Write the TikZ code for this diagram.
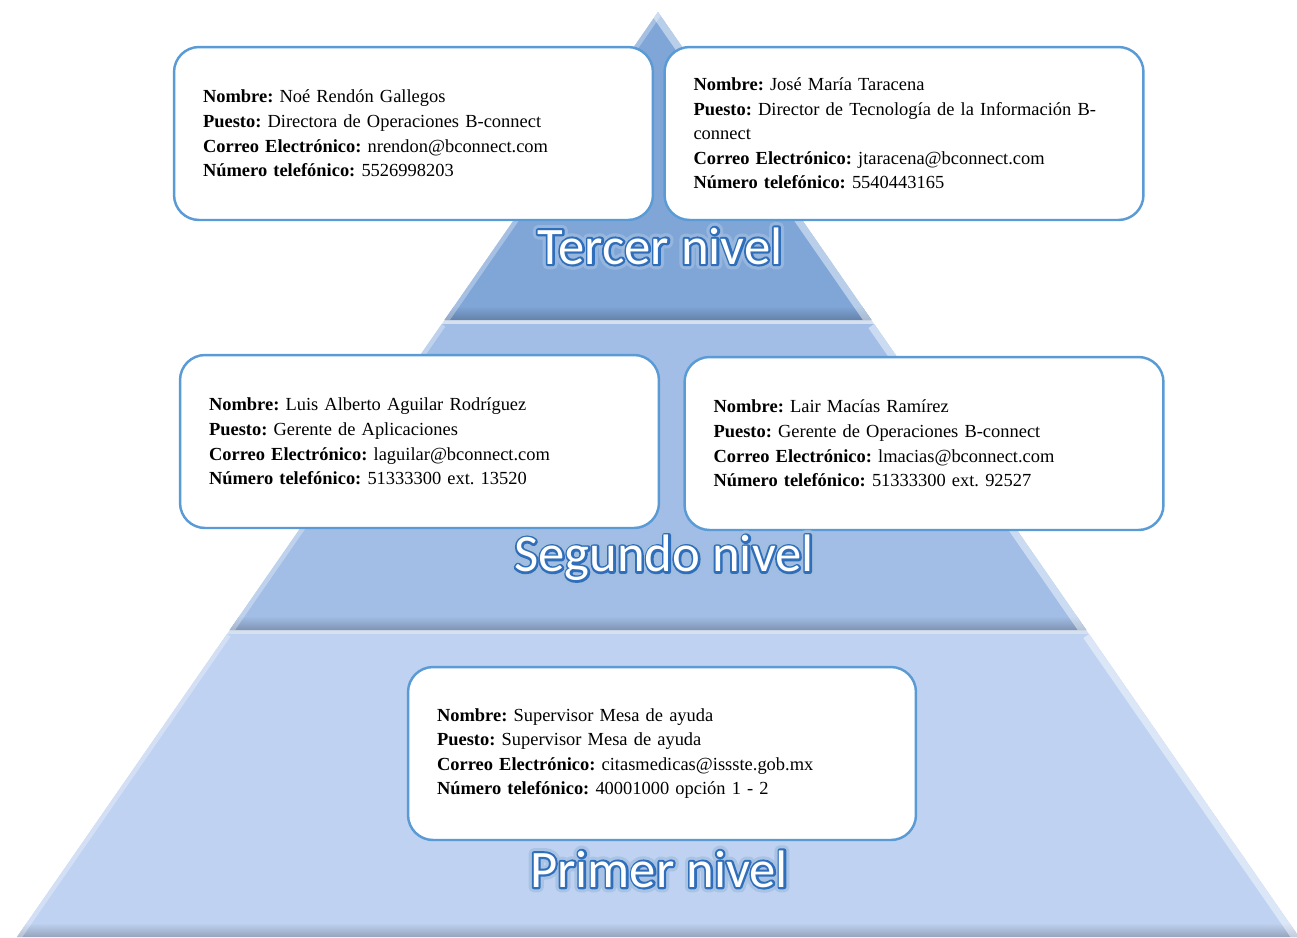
\documentclass[tikz,border=0pt]{standalone}
\usepackage{fontspec}
\setmainfont{Liberation Serif}
\newfontfamily\nivelfont{Carlito}
\newfontfamily\nivelrim{Carlito}[FakeBold=8]
\newfontfamily\nivelglow{Carlito}[FakeBold=20]
\usetikzlibrary{calc,positioning}
\frenchspacing

\definecolor{bandA}{RGB}{128,166,216}
\definecolor{bandB}{RGB}{162,190,230}
\definecolor{bandC}{RGB}{191,210,241}
\definecolor{gapcol}{RGB}{214,224,238}
\definecolor{boxline}{RGB}{91,155,213}
\definecolor{glowblue}{RGB}{47,110,186}

\tikzset{
  infobox/.style={draw=boxline, line width=1.4pt, fill=white, rounded corners=0.5cm,
    minimum width=9.58cm, minimum height=3.46cm, text width=8.42cm, inner sep=0pt,
    align=left, font=\fontsize{10.5}{14}\selectfont},
  nivel/.style={font=\nivelfont\fontsize{30}{34}\selectfont, inner sep=0pt, text=white},
  nivelrim/.style={nivel, font=\nivelrim\fontsize{30}{34}\selectfont, text=glowblue, line join=round},
  nivelglow/.style={nivel, font=\nivelglow\fontsize{30}{34}\selectfont, text=glowblue!45,
    text opacity=.7, line join=round},
}

% white letters with a blue rim
\newcommand{\niveltext}[3]{%
  \node[nivelglow] at (#2) {#3};
  \node[nivelrim] at (#2) {#3};
  \node[nivel] (#1) at (#2) {#3};
}

\begin{document}
\begin{tikzpicture}[x=0.02cm,y=-0.02cm]
\useasboundingbox (0,0) rectangle (1297,937);

% pyramid
\coordinate (apex) at (658,12);
\fill[gapcol] (apex) -- (1299,937) -- (17,937) -- cycle;
\foreach \yt/\yb/\col in {12/320/bandA,324/630/bandB,634/937/bandC}{
  \pgfmathsetmacro\wt{(\yt-12)*0.693}
  \pgfmathsetmacro\wb{(\yb-12)*0.693}
  \begin{scope}
    \clip (658-\wt,\yt) -- (658+\wt,\yt) -- (658+\wb,\yb) -- (658-\wb,\yb) -- cycle;
    \fill[\col] (0,\yt) rectangle (1297,\yb);
    \shade[top color=\col, bottom color=\col!78!black] (0,\yb-14) rectangle (1297,\yb);
    \draw[white, opacity=.3, line width=5pt] (658-\wt,\yt) -- (658-\wb,\yb);
    \draw[white, opacity=.45, line width=8pt] (658+\wt,\yt) -- (658+\wb,\yb);
  \end{scope}
}

% contact boxes
\node[infobox] (dirop) at (413.5,133.5) {%
  \textbf{Nombre:} Noé Rendón Gallegos\\
  \textbf{Puesto:} Directora de Operaciones B-connect\\
  \textbf{Correo Electrónico:} nrendon@bconnect.com\\
  \textbf{Número telefónico:} 5526998203};
\node[infobox] (dirti) at (904,133.5) {%
  \textbf{Nombre:} José María Taracena\\
  \textbf{Puesto:} Director de Tecnología de la Información B-\\
  connect\\
  \textbf{Correo Electrónico:} jtaracena@bconnect.com\\
  \textbf{Número telefónico:} 5540443165};
\node[infobox] (gerapp) at (419.5,441.5) {%
  \textbf{Nombre:} Luis Alberto Aguilar Rodríguez\\
  \textbf{Puesto:} Gerente de Aplicaciones\\
  \textbf{Correo Electrónico:} laguilar@bconnect.com\\
  \textbf{Número telefónico:} 51333300 ext. 13520};
\node[infobox] (gerop) at (924,443.5) {%
  \textbf{Nombre:} Lair Macías Ramírez\\
  \textbf{Puesto:} Gerente de Operaciones B-connect\\
  \textbf{Correo Electrónico:} lmacias@bconnect.com\\
  \textbf{Número telefónico:} 51333300 ext. 92527};
\node[infobox, minimum width=10.16cm, text width=9cm] (mesa) at (662,753.5) {%
  \textbf{Nombre:} Supervisor Mesa de ayuda\\
  \textbf{Puesto:} Supervisor Mesa de ayuda\\
  \textbf{Correo Electrónico:} citasmedicas@issste.gob.mx\\
  \textbf{Número telefónico:} 40001000 opción 1 - 2};

% level names
\niveltext{tercer}{660,246}{Tercer nivel}
\niveltext{segundo}{664,558}{Segundo nivel}
\niveltext{primer}{659,869}{Primer nivel}
\end{tikzpicture}
\end{document}
